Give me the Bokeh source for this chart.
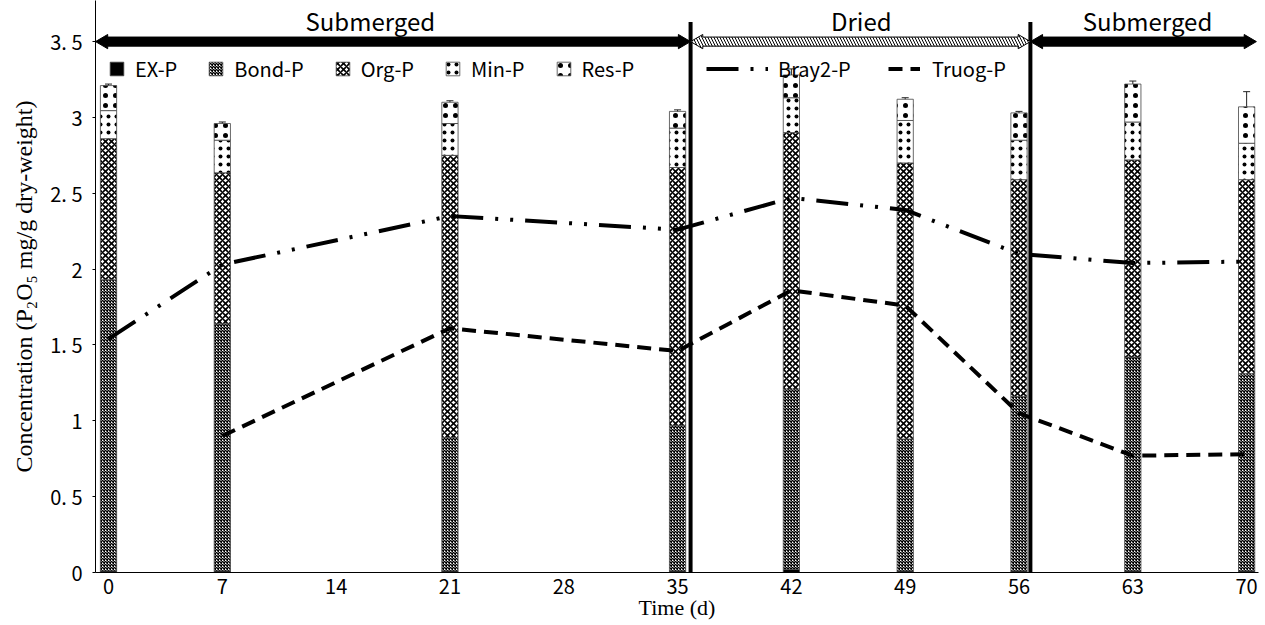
import numpy as np
from bokeh.plotting import figure
from bokeh.models import (ColumnDataSource, Whisker, TeeHead, Legend, LegendItem,
                          FixedTicker, Range1d)
from bokeh.core.properties import value
from bokeh.embed import file_html
from bokeh.resources import INLINE

# ---------------- data ----------------
days = [0, 7, 21, 35, 42, 49, 56, 63, 70]
ex_p   = [0.01, 0.01, 0.01, 0.01, 0.02, 0.01, 0.01, 0.01, 0.01]
bond_p = [1.92, 1.63, 0.88, 0.96, 1.19, 0.87, 1.15, 1.41, 1.30]
org_p  = [0.93, 0.995, 1.86, 1.70, 1.69, 1.82, 1.43, 1.30, 1.28]
min_p  = [0.185, 0.215, 0.21, 0.26, 0.23, 0.28, 0.26, 0.25, 0.24]
res_p  = [0.165, 0.11, 0.14, 0.11, 0.15, 0.14, 0.18, 0.25, 0.24]

bond_err = [0.03, 0.05, 0.04, 0.04, 0.06, 0.04, 0.05, 0.05, 0.05]
org_err  = [0.07, 0.08, 0.06, 0.05, 0.10, 0.06, 0.06, 0.07, 0.06]
min_err  = [0.02, 0.08, 0.06, 0.03, 0.06, 0.05, 0.05, 0.05, 0.10]
res_err  = [0.01, 0.01, 0.01, 0.01, 0.04, 0.01, 0.01, 0.02, 0.10]

bray2_p   = [1.54, 2.03, 2.35, 2.26, 2.47, 2.39, 2.10, 2.04, 2.05]
bray2_err = [0.05, 0.10, 0.08, 0.05, 0.10, 0.06, 0.19, 0.04, 0.04]
truog_days = [7, 21, 35, 42, 49, 56, 63, 70]
truog_p    = [0.90, 1.61, 1.46, 1.86, 1.76, 1.05, 0.77, 0.78]
truog_err  = [0.10, 0.12, 0.05, 0.12, 0.05, 0.60, 0.25, 0.10]

phase_names = ["Submerged", "Dried", "Submerged"]
phase_start = [-0.8, 35.8, 56.7]
phase_end   = [35.8, 56.7, 70.6]
phase_label_x = [16.1, 46.3, 63.9]
separators = [35.8, 56.7]

x_ticks = [0, 7, 14, 21, 28, 35, 42, 49, 56, 63, 70]
y_ticks = [0, 0.5, 1, 1.5, 2, 2.5, 3, 3.5]
y_tick_labels = ["0", "0. 5", "1", "1. 5", "2", "2. 5", "3", "3. 5"]

# ---------------- figure ----------------
SANS = "Noto Sans CJK JP"
SERIF = "Liberation Serif"

p = figure(width=1265, height=625, output_backend="svg", toolbar_location=None,
           x_range=Range1d(-0.8, 70.73), y_range=Range1d(0, 3.771),
           min_border_left=95, min_border_right=7, min_border_top=0, min_border_bottom=53)
p.outline_line_color = None
p.xgrid.visible = False
p.ygrid.visible = False
p.background_fill_color = "white"

# stacked bars
comps = [ex_p, bond_p, org_p, min_p, res_p]
names = ["EX-P", "Bond-P", "Org-P", "Min-P", "Res-P"]
errs = [None, bond_err, org_err, min_err, res_err]
styles = [
    dict(fill_color="black"),
    dict(fill_color="white", hatch_pattern="x", hatch_scale=3, hatch_weight=1.5, hatch_color="black"),
    dict(fill_color="white", hatch_pattern="x", hatch_scale=6, hatch_weight=1.6, hatch_color="black"),
    dict(fill_color="white", hatch_pattern=".", hatch_scale=8, hatch_weight=1.0, hatch_color="black"),
    dict(fill_color="white", hatch_pattern=".", hatch_scale=10, hatch_weight=0.2, hatch_color="black"),
]
bottom = np.zeros(len(days))
bar_renderers = []
for vals, nm, st, er in zip(comps, names, styles, errs):
    top = bottom + np.array(vals)
    src = ColumnDataSource(dict(x=days, bottom=bottom, top=top))
    r = p.vbar(x="x", bottom="bottom", top="top", width=1.0, source=src,
               line_color="#444444", line_width=0.8, **st)
    bar_renderers.append(r)
    if er is not None:
        esrc = ColumnDataSource(dict(x=days, upper=top + np.array(er), lower=top - np.array(er)))
        p.add_layout(Whisker(source=esrc, base="x", upper="upper", lower="lower",
                             line_color="#222222", line_width=1,
                             upper_head=TeeHead(size=7, line_width=1, line_color="#222222"),
                             lower_head=TeeHead(size=7, line_width=1, line_color="#222222")))
    bottom = top

# lines
r_bray = p.line(days, bray2_p, line_color="black", line_width=4, line_dash="32 12 3 12 3 12")
r_truog = p.line(truog_days, truog_p, line_color="black", line_width=4, line_dash="14 8")
for xs, ys, es in [(days, bray2_p, bray2_err), (truog_days, truog_p, truog_err)]:
    ys = np.array(ys); es = np.array(es)
    esrc = ColumnDataSource(dict(x=xs, upper=ys + es, lower=ys - es))
    p.add_layout(Whisker(source=esrc, base="x", upper="upper", lower="lower",
                         line_color="#222222", line_width=1,
                         upper_head=TeeHead(size=7, line_width=1, line_color="#222222"),
                         lower_head=TeeHead(size=7, line_width=1, line_color="#222222")))

# phase separators
p.segment(x0=separators, y0=[0] * len(separators), x1=separators, y1=[3.63] * len(separators),
          line_color="black", line_width=4)

# phase arrows
yc, hb, hh, L = 3.5, 0.03, 0.047, 0.75
xs_list, ys_list = [], []
for x0, x1 in zip(phase_start, phase_end):
    xs_list.append([x0, x0 + L, x0 + L, x1 - L, x1 - L, x1, x1 - L, x1 - L, x0 + L, x0 + L])
    ys_list.append([yc, yc + hh, yc + hb, yc + hb, yc + hh, yc, yc - hh, yc - hb, yc - hb, yc - hh])
fills = ["black", "white", "black"]
hatches = [" ", "\\", " "]
p.patches(xs=xs_list, ys=ys_list, fill_color=fills, line_color="black", line_width=1,
          hatch_pattern=hatches, hatch_color="black", hatch_scale=6, hatch_weight=1)

p.text(x=phase_label_x, y=[3.64] * 3, text=phase_names, text_align="center",
       text_baseline="middle", text_font=value(SANS), text_font_size="24px", text_color="black")

# axes
p.xaxis.ticker = FixedTicker(ticks=x_ticks)
p.yaxis.ticker = FixedTicker(ticks=y_ticks)
p.yaxis.major_label_overrides = {t: l for t, l in zip(y_ticks, y_tick_labels)}
for ax in (p.xaxis[0], p.yaxis[0]):
    ax.axis_line_color = "black"
    ax.axis_line_width = 1
    ax.minor_tick_line_color = None
    ax.major_label_text_font = SANS
    ax.major_label_text_font_size = "20px"
    ax.major_label_text_color = "black"
    ax.axis_label_text_font = SERIF
    ax.axis_label_text_font_style = "normal"
    ax.axis_label_text_color = "black"
p.xaxis.axis_label_text_font_size = "22px"
p.yaxis.axis_label_text_font_size = "24px"
p.xaxis.major_tick_out = 0
p.xaxis.major_tick_in = 0
p.xaxis.major_label_standoff = 6
p.yaxis.major_tick_out = 3
p.yaxis.major_tick_in = 0
p.yaxis.major_label_standoff = 10
p.xaxis.axis_label = "Time (d)"
p.xaxis.axis_label_standoff = -2
p.yaxis.axis_label = "Concentration (P\u2082O\u2085 mg/g dry-weight)"
p.yaxis.axis_label_standoff = 10

# legends
common = dict(orientation="horizontal", padding=0, margin=0, border_line_color=None,
              background_fill_alpha=0, label_text_font=SANS, label_text_font_size="20px",
              label_text_color="black", label_height=20, glyph_height=17)
leg1 = Legend(items=[LegendItem(label=n, renderers=[r]) for n, r in zip(names, bar_renderers)],
              location=(13, 489), glyph_width=17, label_standoff=10, spacing=30, **common)
leg2 = Legend(items=[LegendItem(label="Bray2-P", renderers=[r_bray])],
              location=(611, 489), glyph_width=62, label_standoff=10, **common)
leg3 = Legend(items=[LegendItem(label="Truog-P", renderers=[r_truog])],
              location=(793, 489), glyph_width=32, label_standoff=12, **common)
for lg in (leg1, leg2, leg3):
    p.add_layout(lg)

open("out.html", "w").write(file_html(p, INLINE))
